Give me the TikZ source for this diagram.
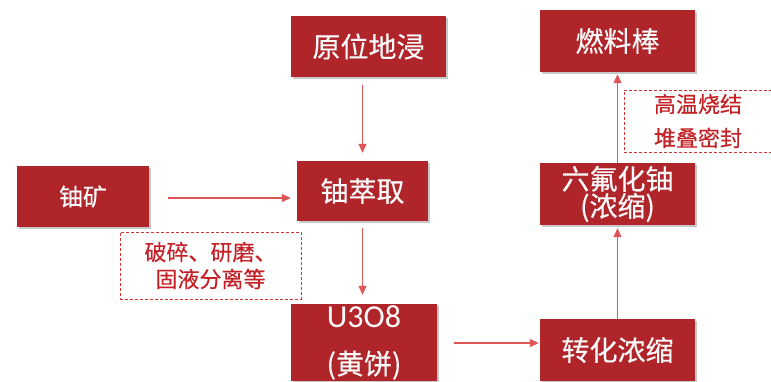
\documentclass[tikz,border=0pt]{standalone}
\usepackage{fontspec}
\setmainfont{Noto Sans CJK SC}[FakeBold=0.3]
\newfontfamily\latinf{Carlito}
\usetikzlibrary{arrows.meta,shadows}
\definecolor{boxred}{RGB}{176,37,42}
\definecolor{arrred}{RGB}{222,85,88}
\definecolor{dashred}{RGB}{210,50,52}
\definecolor{txtred}{RGB}{196,32,38}
\begin{document}
\begin{tikzpicture}[x=1pt,y=-1pt,
  box/.style={rectangle, fill=boxred, text=white!96!gray, inner sep=0pt, align=center,
    font=\fontsize{28}{34}\selectfont,
    drop shadow={shadow xshift=1.5pt, shadow yshift=-2pt, opacity=0.3, fill=black!70}},
  flow/.style={draw=arrred, line width=1.1pt, -{Triangle[length=9pt,width=8pt]}},
  note/.style={rectangle, draw=dashred, dash pattern=on 3pt off 2pt, line width=0.8pt, text=txtred, inner sep=0pt, align=center},
]
\clip (0,0) rectangle (771,381);
\fill[white] (0,0) rectangle (771,381);

\node[box, minimum width=132pt, minimum height=61pt, font=\fontsize{24}{28}\selectfont] (kuang) at (83,196.5) {铀矿};
\node[box, minimum width=155pt, minimum height=61pt] (yuan) at (368.5,46.5) {原位地浸};
\node[box, minimum width=131pt, minimum height=60pt] (cui) at (362.5,191) {铀萃取};
\node[box, minimum width=146pt, minimum height=77pt, font=\fontsize{28}{47}\selectfont] (u3o8) at (364,342.5) {{\latinf\fontsize{32}{47}\selectfont U3O8}\\(黄饼)};
\node[box, minimum width=155pt, minimum height=62pt] (zh) at (617.5,350) {转化浓缩};
\node[box, minimum width=155pt, minimum height=62pt, font=\fontsize{28}{27}\selectfont] (liu) at (617.5,194) {六氟化铀\\(浓缩)};
\node[box, minimum width=155pt, minimum height=62pt] (ran) at (617.5,41) {燃料棒};

\node[note, minimum width=181pt, minimum height=67pt, font=\fontsize{22}{27}\selectfont] (n1) at (210.5,265.5) {破碎、研磨、\\固液分离等};
\node[note, minimum width=148pt, minimum height=62pt, font=\fontsize{22}{34}\selectfont] (n2) at (698,121) {高温烧结\\堆叠密封};

\coordinate (ka) at ([yshift=-1.5pt]kuang.east);
\draw[flow, shorten <=19pt, shorten >=6pt] (ka) -- (ka -| cui.west);
\draw[flow, shorten <=8pt, shorten >=8pt] (cui.north |- yuan.south) -- (cui.north);
\draw[flow, shorten <=7pt, shorten >=9pt] (cui.south) -- (cui.south |- u3o8.north);
\coordinate (za) at ([yshift=7pt]zh.west);
\draw[flow, shorten <=17pt, shorten >=1pt] (za -| u3o8.east) -- (za);
\draw[flow, shorten >=3pt] (zh.north) -- (liu.south);
\draw[flow, shorten >=2pt] (liu.north) -- (ran.south);
\end{tikzpicture}
\end{document}
